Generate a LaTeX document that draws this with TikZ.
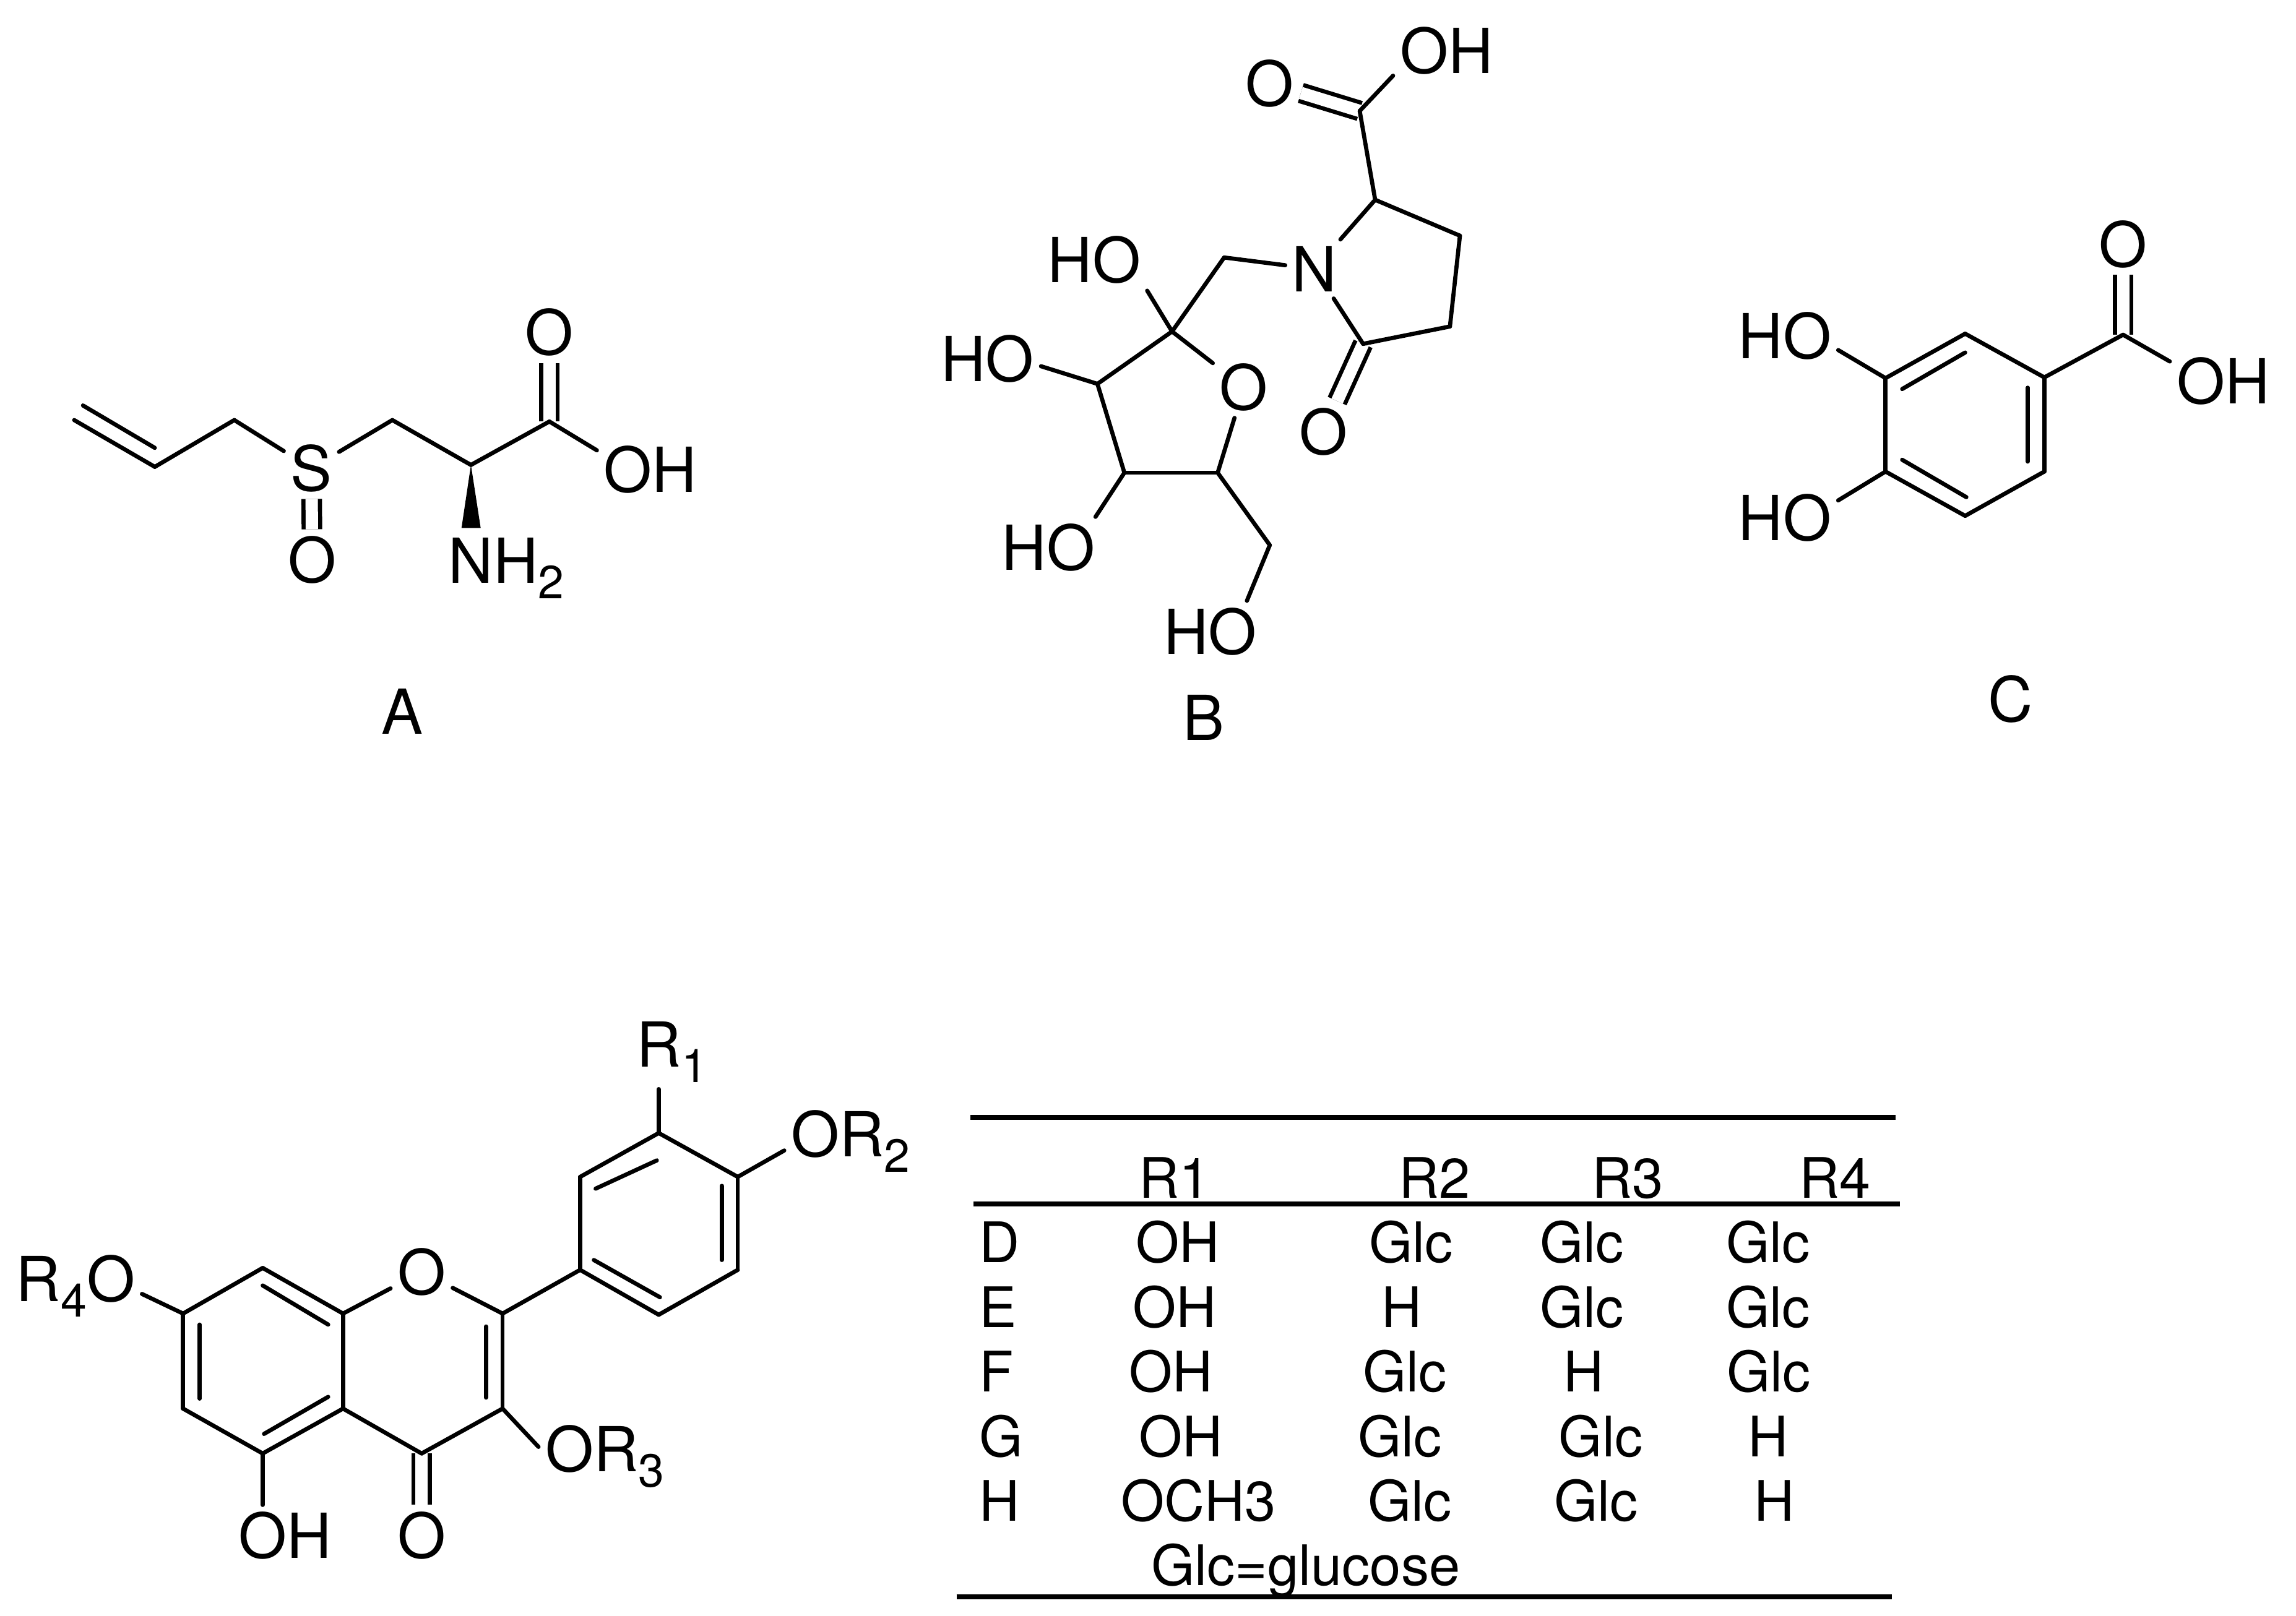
\documentclass[tikz,border=0pt]{standalone}
\usepackage{fontspec}
\setmainfont{TeX Gyre Heros}
\newcommand{\subnum}[1]{\raisebox{-3pt}{\fontsize{9}{10}\selectfont #1}}

\begin{document}
\begin{tikzpicture}[x=0.1mm,y=-0.1mm]
\tikzset{atom/.style = {inner sep=0.04cm,font=\fontsize{12}{14}\selectfont}}
\tikzset{subst/.style = {atom,anchor=base west}}
\tikzset{cell/.style = {inner sep=0pt,anchor=base,font=\fontsize{10.8}{12}\selectfont}}
\tikzset{rowlabel/.style = {cell,anchor=base west}}
\tikzset{bond/.style = {line width=0.8pt,line cap=round}}
\tikzset{dbond/.style = {line width=0.8pt,double,double distance=2.39pt}}
\tikzset{rule/.style = {line width=0.9pt}}
\useasboundingbox (0,0) rectangle (1560.1,1098);
% compound A
\coordinate (a1) at (50.4,285.5);
\coordinate (a1b) at (56.4,275.6);
\coordinate (a2) at (105.2,317.3);
\coordinate (a2b) at (105.2,304.4);
\coordinate (a3) at (159.2,285.5);
\coordinate (a5) at (266.6,285.5);
\coordinate (a6) at (320,316);
\coordinate (a7) at (373.3,286.5);
\coordinate (wl) at (313.6,358.8);
\coordinate (wr) at (326.6,358.8);
\node[atom] (sa) at (211.6,318.3) {S};
\node[atom] (osa) at (212.1,380.6) {O};
\node[atom] (oa) at (373.3,225.8) {O};
\node[atom] (oha) at (441.9,319.3) {OH};
\node[subst] (nha) at (300,396.4) {NH\subnum{2}};
\node[atom] (capa) at (273.4,483.5) {A};
\draw[dbond] (sa) to (osa);
\draw[dbond] (a7) to (oa);
\draw[bond] (a1) to (a2);
\draw[bond] (a1b) to (a2b);
\draw[bond] (a2) to (a3);
\draw[bond] (a3) to (sa);
\draw[bond] (sa) to (a5);
\draw[bond] (a5) to (a6);
\draw[bond] (a6) to (a7);
\draw[bond] (a7) to (oha.160);
\fill (a6) -- (wl) -- (wr) -- cycle;
% compound B
\coordinate (b1) at (923.9,75.4);
\coordinate (b2) at (934.4,135.8);
\coordinate (b3) at (992,160.2);
\coordinate (b4) at (985.2,221.9);
\coordinate (b5) at (926.2,233.7);
\coordinate (b6) at (831.8,175);
\coordinate (b7) at (796.4,225.3);
\coordinate (b8) at (827.4,321.3);
\coordinate (b9) at (764,321.3);
\coordinate (b10) at (745.7,260.9);
\coordinate (b11) at (862.8,370.5);
\node[atom] (ohb) at (982.9,34.5) {OH};
\node[atom] (ob) at (862.8,56.7) {O};
\node[atom] (nb) at (893.2,182.8) {N};
\node[atom] (okb) at (899.1,293.4) {O};
\node[atom] (orb) at (845.2,263.2) {O};
\node[atom] (hob) at (743.4,176.7) {HO};
\node[atom] (hoc) at (671,243.8) {HO};
\node[atom] (hod) at (712.3,372.1) {HO};
\node[atom] (hoe) at (822.4,429.2) {HO};
\node[atom] (capb) at (817.7,487.8) {B};
\draw[dbond] (b1) to (ob);
\draw[dbond] (b5) to (okb);
\draw[bond] (b1) to (ohb.205);
\draw[bond] (b1) to (b2);
\draw[bond] (b2) to (nb);
\draw[bond] (b2) to (b3);
\draw[bond] (b3) to (b4);
\draw[bond] (b4) to (b5);
\draw[bond] (b5) to (nb);
\draw[bond] (nb) to (b6);
\draw[bond] (b6) to (b7);
\draw[bond] (b7) to (hob.-30);
\draw[bond] (b7) to (orb);
\draw[bond] (orb) to (b8);
\draw[bond] (b8) to (b9);
\draw[bond] (b9) to (b10);
\draw[bond] (b10) to (b7);
\draw[bond] (b10) to (hoc.-8);
\draw[bond] (b9) to (hod.33);
\draw[bond] (b8) to (b11);
\draw[bond] (b11) to (hoe.40);
% compound C
\coordinate (c1) at (1389.1,256.5);
\coordinate (c2) at (1389.1,320.5);
\coordinate (c3) at (1335.3,350.6);
\coordinate (c4) at (1281.2,320.5);
\coordinate (c5) at (1281.2,257);
\coordinate (c6) at (1335.3,226.8);
\coordinate (c7) at (1442.6,227.5);
\coordinate (i1) at (1292.5,264.4);
\coordinate (i2) at (1335.3,239.6);
\coordinate (i3) at (1377.9,263.5);
\coordinate (i4) at (1377.9,313.7);
\coordinate (i5) at (1292.5,312.5);
\coordinate (i6) at (1336.1,337.9);
\node[atom] (oc) at (1442.6,165.9) {O};
\node[atom] (ohc) at (1510.7,258.9) {OH};
\node[atom] (hof) at (1212.7,228.2) {HO};
\node[atom] (hog) at (1212.7,351.9) {HO};
\node[atom] (capc) at (1366,475) {C};
\draw[dbond] (c7) to (oc);
\draw[bond] (c1) to (c2);
\draw[bond] (c2) to (c3);
\draw[bond] (c3) to (c4);
\draw[bond] (c4) to (c5);
\draw[bond] (c5) to (c6);
\draw[bond] (c6) to (c1);
\draw[bond] (i1) to (i2);
\draw[bond] (i3) to (i4);
\draw[bond] (i5) to (i6);
\draw[bond] (c1) to (c7);
\draw[bond] (c7) to (ohc.160);
\draw[bond] (c5) to (hof.-15);
\draw[bond] (c4) to (hog.18);
% flavonoid
\coordinate (f1) at (447.6,770.1);
\coordinate (f2) at (501.3,799.9);
\coordinate (f3) at (501.3,863.1);
\coordinate (f4) at (447.6,893.6);
\coordinate (f5) at (394.2,863.1);
\coordinate (f6) at (394.2,799.9);
\coordinate (f7) at (341.5,892.8);
\coordinate (f8) at (233.1,892.8);
\coordinate (f9) at (178.5,861.8);
\coordinate (f10) at (124.4,892.8);
\coordinate (f11) at (124.4,957.4);
\coordinate (f12) at (178.5,987.9);
\coordinate (f13) at (233.1,957.4);
\coordinate (f14) at (286.5,987.9);
\coordinate (f15) at (341.5,957.4);
\coordinate (j1) at (404.7,807.9);
\coordinate (j2) at (446.3,788.7);
\coordinate (j3) at (490.4,806);
\coordinate (j4) at (490.4,856.4);
\coordinate (j5) at (403.5,856.4);
\coordinate (j6) at (448.4,881.7);
\coordinate (j7) at (178.5,873.7);
\coordinate (j8) at (223,900.3);
\coordinate (j9) at (135.7,900.3);
\coordinate (j10) at (135.7,950.6);
\coordinate (j11) at (179.4,974.6);
\coordinate (j12) at (223,949.4);
\coordinate (j13) at (330.2,901.6);
\coordinate (j14) at (330.2,949.9);
\node[subst] (rone) at (428,725) {R\subnum{1}};
\node[subst] (ortwo) at (532.9,786.1) {OR\subnum{2}};
\node[subst] (orthree) at (365.9,1000) {OR\subnum{3}};
\node[subst] (rfour) at (6.2,884.4) {R\subnum{4}O};
\node[atom] (of) at (286.5,864.5) {O};
\node[atom] (ohf) at (193.6,1043.7) {OH};
\node[atom] (okf) at (286.5,1043.7) {O};
\draw[dbond] (f14) to (okf);
\draw[bond] (f1) to (f2);
\draw[bond] (f2) to (f3);
\draw[bond] (f3) to (f4);
\draw[bond] (f4) to (f5);
\draw[bond] (f5) to (f6);
\draw[bond] (f6) to (f1);
\draw[bond] (j1) to (j2);
\draw[bond] (j3) to (j4);
\draw[bond] (j5) to (j6);
\draw[bond] (f5) to (f7);
\draw[bond] (f7) to (of);
\draw[bond] (of) to (f8);
\draw[bond] (f8) to (f9);
\draw[bond] (f9) to (f10);
\draw[bond] (f10) to (f11);
\draw[bond] (f11) to (f12);
\draw[bond] (f12) to (f13);
\draw[bond] (f13) to (f8);
\draw[bond] (f13) to (f14);
\draw[bond] (f14) to (f15);
\draw[bond] (f15) to (f7);
\draw[bond] (j7) to (j8);
\draw[bond] (j9) to (j10);
\draw[bond] (j11) to (j12);
\draw[bond] (j13) to (j14);
\draw[bond] (f1) to (f1 |- rone.south);
\draw[bond] (f2) to (ortwo.188);
\draw[bond] (f15) to (orthree.172);
\draw[bond] (f10) to (rfour.-7);
\draw[bond] (f12) to (f12 |- ohf.north);
% table
\coordinate (t1) at (659.4,759.5);
\coordinate (t2) at (1288,759.5);
\coordinate (t3) at (661.5,818.3);
\coordinate (t4) at (1291,818.3);
\coordinate (t5) at (650,1085.4);
\coordinate (t6) at (1285.6,1085.4);
\draw[rule] (t1) to (t2);
\draw[rule] (t3) to (t4);
\draw[rule] (t5) to (t6);
\node[cell] (hone) at (798,814.3) {R1};
\node[cell] (htwo) at (974.8,814.3) {R2};
\node[cell] (hthree) at (1106.1,814.3) {R3};
\node[cell] (hfour) at (1247,814.3) {R4};
\node[rowlabel] (rd) at (664.9,857.9) {D};
\node[cell] (d1) at (800.1,857.9) {OH};
\node[cell] (d2) at (958.9,857.9) {Glc};
\node[cell] (d3) at (1074.8,857.9) {Glc};
\node[cell] (d4) at (1201.3,857.9) {Glc};
\node[rowlabel] (re) at (664.9,902) {E};
\node[cell] (e1) at (798,902) {OH};
\node[cell] (e2) at (952.4,902) {H};
\node[cell] (e3) at (1074.8,902) {Glc};
\node[cell] (e4) at (1201.3,902) {Glc};
\node[rowlabel] (rf) at (664.9,945.8) {F};
\node[cell] (g1) at (795.8,945.8) {OH};
\node[cell] (g2) at (954.6,945.8) {Glc};
\node[cell] (g3) at (1076,945.8) {H};
\node[cell] (g4) at (1201.7,945.8) {Glc};
\node[rowlabel] (rg) at (664.9,990) {G};
\node[cell] (k1) at (802.3,990) {OH};
\node[cell] (k2) at (951.2,990) {Glc};
\node[cell] (k3) at (1087.7,990) {Glc};
\node[cell] (k4) at (1201.3,990) {H};
\node[rowlabel] (rh) at (664.9,1033.7) {H};
\node[cell] (m1) at (814.3,1033.7) {OCH3};
\node[cell] (m2) at (958,1033.7) {Glc};
\node[cell] (m3) at (1084.6,1033.7) {Glc};
\node[cell] (m4) at (1205.6,1033.7) {H};
\node[cell] (note) at (887.2,1077.7) {Glc=glucose};
\end{tikzpicture}
\end{document}
